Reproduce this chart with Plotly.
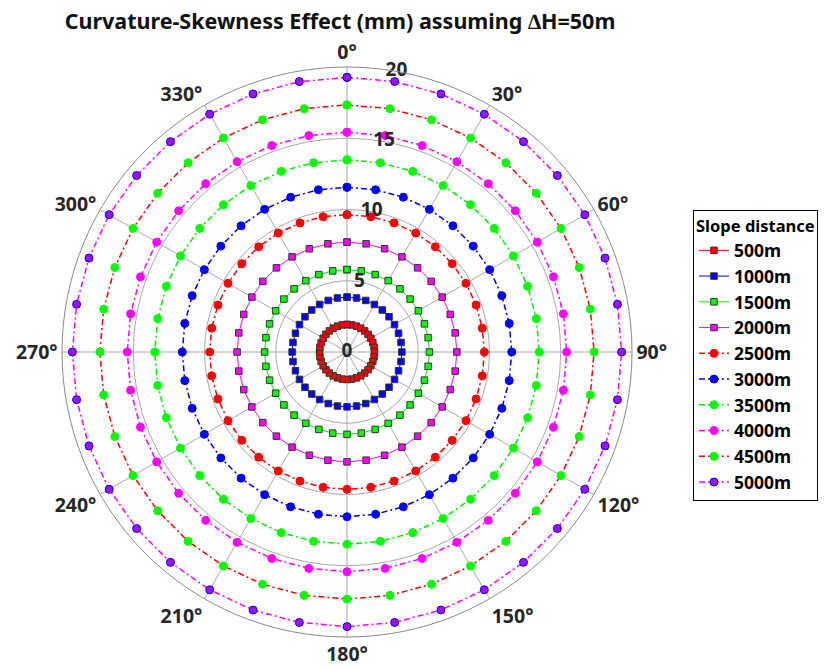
import plotly.graph_objects as go

# ---- data ----
azimuth_deg = [0, 10, 20, 30, 40, 50, 60, 70, 80, 90, 100, 110, 120, 130, 140, 150, 160, 170,
               180, 190, 200, 210, 220, 230, 240, 250, 260, 270, 280, 290, 300, 310, 320, 330,
               340, 350, 360]
slope_labels = ["500m", "1000m", "1500m", "2000m", "2500m",
                "3000m", "3500m", "4000m", "4500m", "5000m"]
effect_mm = [1.93, 3.85, 5.78, 7.71, 9.64, 11.56, 13.49, 15.42, 17.34, 19.27]
radial_ticks = [0, 5, 10, 15, 20]
radial_ticktext = ["0", "5", "10", "15", "20"]
radial_label_azimuth = 10
angle_ticks = [0, 30, 60, 90, 120, 150, 180, 210, 240, 270, 300, 330]

# ---- styles ----
line_colors = ["#ff0000", "#0000ff", "#00ee00", "#ff00ff", "#ff0000",
               "#0000ff", "#00ee00", "#ff00ff", "#ff0000", "#ff00ff"]
marker_fill = ["#ff0000", "#0000ff", "#00ff00", "#ff00ff", "#ff0000",
               "#0000ff", "#00ff00", "#ff00ff", "#00ff00", "#a010ff"]
marker_edge = ["#333333", "#333333", "#333333", "#333333", "#ff0000",
               "#0000ff", "#00ff00", "#ff00ff", "#00ff00", "#0000ff"]
marker_sym = ["square"] * 4 + ["circle"] * 6
line_dash = ["solid"] * 4 + ["6px,3px,2px,3px"] * 6

FONT = "Noto Sans"
TXT = "#262626"

fig = go.Figure()
for i, lab in enumerate(slope_labels):
    fig.add_trace(go.Scatterpolar(
        r=[effect_mm[i]] * len(azimuth_deg),
        theta=azimuth_deg,
        mode="lines+markers",
        name=lab,
        line=dict(color=line_colors[i], width=1 if i < 4 else 1.5, dash=line_dash[i]),
        marker=dict(symbol=marker_sym[i], size=6.5 if i < 4 else 8,
                    color=marker_fill[i],
                    line=dict(color=marker_edge[i], width=1)),
    ))

# radial tick labels drawn along the 10-degree direction, above the data
fig.add_trace(go.Scatterpolar(
    r=radial_ticks,
    theta=[radial_label_azimuth] * len(radial_ticks),
    mode="text",
    text=radial_ticktext,
    textposition="middle center",
    textfont=dict(family=FONT, size=19, weight="bold", color=TXT),
    showlegend=False,
    hoverinfo="skip",
))

# the page body adds an 8px margin: size the figure so it fills the window
W, H = 818, 661
OFF = 8
cx, cy, R = 347 - OFF, 352 - OFF, 285
fig.update_layout(
    width=W, height=H,
    margin=dict(l=0, r=0, t=0, b=0, autoexpand=False),
    paper_bgcolor="white",
    font=dict(family=FONT, color=TXT),
    title=dict(text="Curvature-Skewness Effect (mm) assuming ∆H=50m",
               x=(340 - OFF) / W, xanchor="center", y=1 - (21 - OFF) / H, yanchor="middle",
               font=dict(family=FONT, size=21.5, weight="bold", color="#111111")),
    polar=dict(
        domain=dict(x=[(cx - R) / W, (cx + R) / W], y=[1 - (cy + R) / H, 1 - (cy - R) / H]),
        bgcolor="white",
        angularaxis=dict(rotation=90, direction="clockwise",
                         tickmode="array", tickvals=angle_ticks,
                         ticktext=[f"{a}°" for a in angle_ticks],
                         tickfont=dict(family=FONT, size=19.5, weight="bold", color=TXT),
                         showline=True, linecolor="#8a8a8a", linewidth=1,
                         gridcolor="#a8a8a8", gridwidth=1, ticks=""),
        radialaxis=dict(range=[0, 20], tickmode="array", tickvals=radial_ticks,
                        angle=80, showticklabels=False, showline=False, ticks="",
                        gridcolor="#a8a8a8", gridwidth=1),
    ),
    legend=dict(x=(693 - OFF) / W, y=1 - (210 - OFF) / H, xanchor="left", yanchor="top",
                bordercolor="#000000", borderwidth=1, bgcolor="white",
                title=dict(text="Slope distance",
                           font=dict(family=FONT, size=16.5, weight="bold", color="#000000")),
                font=dict(family=FONT, size=17.5, weight="bold", color="#000000"),
                tracegroupgap=0),
)
fig.add_shape(type="line", xref="paper", yref="paper",
              x0=(693 - OFF) / W, x1=1, y0=1 - (238 - OFF) / H, y1=1 - (238 - OFF) / H,
              line=dict(color="#8a8a8a", width=1))
fig.write_html("out.html")
